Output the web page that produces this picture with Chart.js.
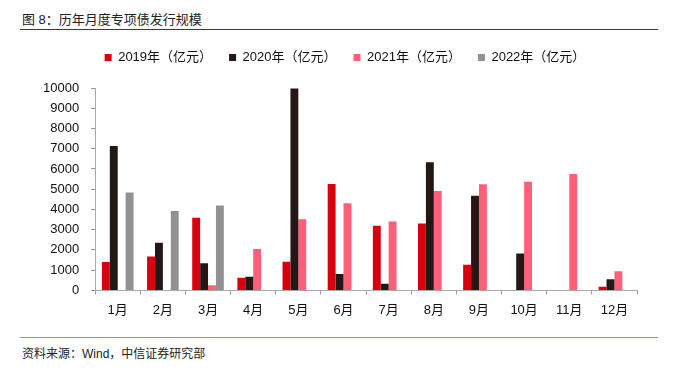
<!DOCTYPE html>
<html>
<head>
<meta charset="utf-8">
<script src="https://cdn.jsdelivr.net/npm/chart.js@4.4.0/dist/chart.umd.min.js"></script>
<style>
  html, body { margin: 0; padding: 0; background: #fff; }
  #wrap { position: relative; width: 678px; height: 371px; overflow: hidden; font-family: "Liberation Sans", "Noto Sans CJK SC", sans-serif; }
  #title { position: absolute; left: 22px; top: 9px; font-size: 13px; color: #222; white-space: nowrap; }
  #topline { position: absolute; left: 20px; top: 29px; width: 638px; height: 0; border-top: 1px solid #c00000; }
  #botline { position: absolute; left: 20px; top: 337px; width: 638px; height: 0; border-top: 1px solid #e87070; }
  #source { position: absolute; left: 22px; top: 344px; font-size: 12px; color: #222; white-space: nowrap; }
  #cv { position: absolute; left: 0; top: 34px; }
</style>
</head>
<body>
<div id="wrap">
  <div id="title">图 8：历年月度专项债发行规模</div>
  <div id="topline"></div>
  <canvas id="cv" width="678" height="297"></canvas>
  <div id="botline"></div>
  <div id="source">资料来源：Wind，中信证券研究部</div>
</div>
<script>
const categories = ["1月","2月","3月","4月","5月","6月","7月","8月","9月","10月","11月","12月"];
const seriesNames = ["2019年（亿元）","2020年（亿元）","2021年（亿元）","2022年（亿元）"];
const values2019 = [1400, 1670, 3590, 630, 1420, 5260, 3190, 3310, 1270, null, null, 180];
const values2020 = [7140, 2350, 1340, 680, 9970, 810, 330, 6330, 4680, 1820, null, 550];
const values2021 = [null, null, 250, 2050, 3520, 4300, 3400, 4910, 5240, 5370, 5750, 940];
const values2022 = [4840, 3920, 4200, null, null, null, null, null, null, null, null, null];
const yTicks = [0,1000,2000,3000,4000,5000,6000,7000,8000,9000,10000];
const colors = ["#d7000f", "#231815", "#ff5f78", "#919191"];

const FONT = '"Liberation Sans", "Noto Sans CJK SC", sans-serif';
const allSeries = [values2019, values2020, values2021, values2022];

const legendTweak = {
  id: 'legendTweak',
  beforeInit(chart) {
    const origFit = chart.legend.fit;
    chart.legend.fit = function () {
      origFit.bind(chart.legend)();
      this.height += 14;
    };
  },
  afterLayout(chart) {
    chart.legend.left += 11;
    chart.legend.right += 11;
  }
};

new Chart(document.getElementById('cv'), {
  type: 'bar',
  data: {
    labels: categories,
    datasets: allSeries.map((v, i) => ({
      label: seriesNames[i],
      data: v,
      backgroundColor: colors[i],
      borderWidth: 0,
      categoryPercentage: 0.7,
      barPercentage: 1.0
    }))
  },
  plugins: [legendTweak],
  options: {
    responsive: false,
    animation: false,
    layout: { padding: { left: 31, right: 41, top: 0, bottom: 5 } },
    plugins: {
      legend: {
        position: 'top',
        labels: {
          boxWidth: 7, boxHeight: 7, padding: 17,
          color: '#111',
          font: { family: FONT, size: 13 }
        }
      },
      tooltip: { enabled: false }
    },
    scales: {
      x: {
        grid: { display: true, drawOnChartArea: false, drawTicks: true, tickLength: 4, color: '#999', offset: true },
        border: { display: true, color: '#aaa' },
        ticks: { color: '#111', font: { family: FONT, size: 13 }, padding: 8 }
      },
      y: {
        min: 0, max: 10000,
        afterBuildTicks: (s) => { s.ticks = yTicks.map(v => ({ value: v })); },
        grid: { display: true, drawOnChartArea: false, drawTicks: true, tickLength: 4, color: '#999' },
        border: { display: true, color: '#aaa' },
        ticks: { color: '#111', font: { family: FONT, size: 13 }, padding: 12, callback: (v) => String(v) }
      }
    }
  }
});
</script>
</body>
</html>
